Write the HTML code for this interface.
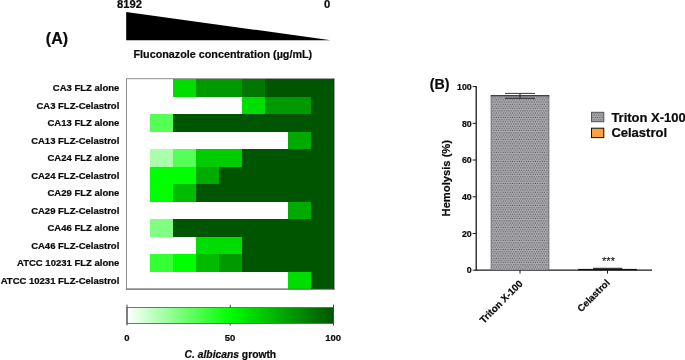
<!DOCTYPE html>
<html lang="en"><head><meta charset="utf-8"><title>Figure</title>
<style>html,body{margin:0;padding:0;background:#fff;}body{width:685px;height:360px;overflow:hidden;}svg{display:block;will-change:transform;}text{font-family:"Liberation Sans",Arial,sans-serif;font-weight:bold;fill:#0a0a0a;stroke:#0a0a0a;stroke-width:0.22px;paint-order:stroke fill;}</style>
</head><body>
<svg width="685" height="360" viewBox="0 0 685 360">
<defs>
<linearGradient id="cb" x1="0" y1="0" x2="1" y2="0"><stop offset="0" stop-color="#ffffff"/><stop offset="0.5" stop-color="#00ff00"/><stop offset="1" stop-color="#005500"/></linearGradient>
<pattern id="dots" x="0" y="0" width="2.3" height="4.4" patternUnits="userSpaceOnUse"><rect width="2.3" height="4.4" fill="#acacb0"/><rect x="0.2" y="0.3" width="1" height="1" fill="#4a4a4e"/><rect x="1.35" y="2.5" width="1" height="1" fill="#4a4a4e"/></pattern>
</defs>
<rect width="685" height="360" fill="#fff"/>
<text x="117" y="7.9" font-size="11.2">8192</text>
<text x="324" y="7.9" font-size="11.2">0</text>
<polygon points="126.2,12 126.2,40.2 330.8,40.2" fill="#000"/>
<text x="133.5" y="57.9" font-size="11.2" textLength="178.7" lengthAdjust="spacingAndGlyphs">Fluconazole concentration (µg/mL)</text>
<text x="45.8" y="43.6" font-size="16">(A)</text>
<rect x="126.5" y="78.7" width="207.5" height="210.3" fill="#fff" stroke="#8c8c8c" stroke-width="1"/>
<rect x="173.0" y="79.0" width="23.0" height="17.5" fill="#00dd00" shape-rendering="crispEdges"/>
<rect x="196.0" y="79.0" width="46.0" height="17.5" fill="#009900" shape-rendering="crispEdges"/>
<rect x="242.0" y="79.0" width="23.0" height="17.5" fill="#007700" shape-rendering="crispEdges"/>
<rect x="265.0" y="79.0" width="69.0" height="17.5" fill="#005500" shape-rendering="crispEdges"/>
<text x="119.3" y="91.10" font-size="9.5" text-anchor="end">CA3 FLZ alone</text>
<rect x="242.0" y="96.5" width="23.0" height="17.5" fill="#00dd00" shape-rendering="crispEdges"/>
<rect x="265.0" y="96.5" width="46.0" height="17.5" fill="#009900" shape-rendering="crispEdges"/>
<rect x="311.0" y="96.5" width="23.0" height="17.5" fill="#005500" shape-rendering="crispEdges"/>
<text x="119.3" y="108.60" font-size="9.5" text-anchor="end">CA3 FLZ-Celastrol</text>
<rect x="150.0" y="114.0" width="23.0" height="17.5" fill="#55ff55" shape-rendering="crispEdges"/>
<rect x="173.0" y="114.0" width="161.0" height="17.5" fill="#005500" shape-rendering="crispEdges"/>
<text x="119.3" y="126.10" font-size="9.5" text-anchor="end">CA13 FLZ alone</text>
<rect x="288.0" y="131.5" width="23.0" height="17.5" fill="#00aa00" shape-rendering="crispEdges"/>
<rect x="311.0" y="131.5" width="23.0" height="17.5" fill="#005500" shape-rendering="crispEdges"/>
<text x="119.3" y="143.60" font-size="9.5" text-anchor="end">CA13 FLZ-Celastrol</text>
<rect x="150.0" y="149.0" width="23.0" height="17.5" fill="#aaffaa" shape-rendering="crispEdges"/>
<rect x="173.0" y="149.0" width="23.0" height="17.5" fill="#55ff55" shape-rendering="crispEdges"/>
<rect x="196.0" y="149.0" width="46.0" height="17.5" fill="#00cc00" shape-rendering="crispEdges"/>
<rect x="242.0" y="149.0" width="92.0" height="17.5" fill="#005500" shape-rendering="crispEdges"/>
<text x="119.3" y="161.10" font-size="9.5" text-anchor="end">CA24 FLZ alone</text>
<rect x="150.0" y="166.5" width="46.0" height="17.5" fill="#00ff00" shape-rendering="crispEdges"/>
<rect x="196.0" y="166.5" width="23.0" height="17.5" fill="#00aa00" shape-rendering="crispEdges"/>
<rect x="219.0" y="166.5" width="115.0" height="17.5" fill="#005500" shape-rendering="crispEdges"/>
<text x="119.3" y="178.60" font-size="9.5" text-anchor="end">CA24 FLZ-Celastrol</text>
<rect x="150.0" y="184.0" width="23.0" height="17.5" fill="#00ff00" shape-rendering="crispEdges"/>
<rect x="173.0" y="184.0" width="23.0" height="17.5" fill="#00bb00" shape-rendering="crispEdges"/>
<rect x="196.0" y="184.0" width="138.0" height="17.5" fill="#005500" shape-rendering="crispEdges"/>
<text x="119.3" y="196.10" font-size="9.5" text-anchor="end">CA29 FLZ alone</text>
<rect x="288.0" y="201.5" width="23.0" height="17.5" fill="#00aa00" shape-rendering="crispEdges"/>
<rect x="311.0" y="201.5" width="23.0" height="17.5" fill="#005500" shape-rendering="crispEdges"/>
<text x="119.3" y="213.60" font-size="9.5" text-anchor="end">CA29 FLZ-Celastrol</text>
<rect x="150.0" y="219.0" width="23.0" height="17.5" fill="#80ff80" shape-rendering="crispEdges"/>
<rect x="173.0" y="219.0" width="161.0" height="17.5" fill="#005500" shape-rendering="crispEdges"/>
<text x="119.3" y="231.10" font-size="9.5" text-anchor="end">CA46 FLZ alone</text>
<rect x="196.0" y="236.5" width="46.0" height="17.5" fill="#00dd00" shape-rendering="crispEdges"/>
<rect x="242.0" y="236.5" width="92.0" height="17.5" fill="#005500" shape-rendering="crispEdges"/>
<text x="119.3" y="248.60" font-size="9.5" text-anchor="end">CA46 FLZ-Celastrol</text>
<rect x="150.0" y="254.0" width="23.0" height="17.5" fill="#33ff33" shape-rendering="crispEdges"/>
<rect x="173.0" y="254.0" width="23.0" height="17.5" fill="#00ff00" shape-rendering="crispEdges"/>
<rect x="196.0" y="254.0" width="23.0" height="17.5" fill="#00bb00" shape-rendering="crispEdges"/>
<rect x="219.0" y="254.0" width="23.0" height="17.5" fill="#009900" shape-rendering="crispEdges"/>
<rect x="242.0" y="254.0" width="92.0" height="17.5" fill="#005500" shape-rendering="crispEdges"/>
<text x="119.3" y="266.10" font-size="9.5" text-anchor="end">ATCC 10231 FLZ alone</text>
<rect x="288.0" y="271.5" width="23.0" height="17.5" fill="#00dd00" shape-rendering="crispEdges"/>
<rect x="311.0" y="271.5" width="23.0" height="17.5" fill="#005500" shape-rendering="crispEdges"/>
<text x="119.3" y="283.60" font-size="9.5" text-anchor="end">ATCC 10231 FLZ-Celastrol</text>
<line x1="333.8" y1="78.5" x2="333.8" y2="289.5" stroke="#222" stroke-width="0.7"/>
<line x1="126.0" y1="289.2" x2="334.5" y2="289.2" stroke="#555" stroke-width="0.8"/>
<rect x="127" y="307.5" width="206.5" height="16" fill="url(#cb)" stroke="#666" stroke-width="0.9"/>
<line x1="127" y1="304.7" x2="127" y2="325.5" stroke="#444" stroke-width="1"/>
<line x1="333.5" y1="304.7" x2="333.5" y2="325.5" stroke="#444" stroke-width="1"/>
<line x1="230.25" y1="304.7" x2="230.25" y2="307.5" stroke="#444" stroke-width="1"/>
<line x1="230.25" y1="323.5" x2="230.25" y2="325.5" stroke="#444" stroke-width="1"/>
<text x="126.8" y="340.9" font-size="9.5" text-anchor="middle">0</text>
<text x="230" y="340.9" font-size="9.5" text-anchor="middle">50</text>
<text x="333.2" y="340.9" font-size="9.5" text-anchor="middle">100</text>
<text x="230.4" y="357.5" font-size="10.3" text-anchor="middle"><tspan font-style="italic">C. albicans</tspan> growth</text>
<text x="429.7" y="88.8" font-size="14.2">(B)</text>
<line x1="476.2" y1="86.1" x2="476.2" y2="270.7" stroke="#1a1a1a" stroke-width="1.3"/>
<line x1="475.59999999999997" y1="270.2" x2="652" y2="270.2" stroke="#1a1a1a" stroke-width="1.3"/>
<line x1="472.6" y1="270.20" x2="476.2" y2="270.20" stroke="#1a1a1a" stroke-width="1"/>
<text x="471.7" y="273.40" font-size="8.8" text-anchor="end">0</text>
<line x1="472.6" y1="233.48" x2="476.2" y2="233.48" stroke="#1a1a1a" stroke-width="1"/>
<text x="471.7" y="236.68" font-size="8.8" text-anchor="end">20</text>
<line x1="472.6" y1="196.76" x2="476.2" y2="196.76" stroke="#1a1a1a" stroke-width="1"/>
<text x="471.7" y="199.96" font-size="8.8" text-anchor="end">40</text>
<line x1="472.6" y1="160.04" x2="476.2" y2="160.04" stroke="#1a1a1a" stroke-width="1"/>
<text x="471.7" y="163.24" font-size="8.8" text-anchor="end">60</text>
<line x1="472.6" y1="123.32" x2="476.2" y2="123.32" stroke="#1a1a1a" stroke-width="1"/>
<text x="471.7" y="126.52" font-size="8.8" text-anchor="end">80</text>
<line x1="472.6" y1="86.60" x2="476.2" y2="86.60" stroke="#1a1a1a" stroke-width="1"/>
<text x="471.7" y="89.80" font-size="8.8" text-anchor="end">100</text>
<text transform="translate(450.3,178.2) rotate(-90)" font-size="11.2" text-anchor="middle">Hemolysis (%)</text>
<rect x="491" y="95.78" width="58" height="174.42" fill="url(#dots)" stroke="#555" stroke-width="0.6"/>
<line x1="490.7" y1="95.78" x2="549.3" y2="95.78" stroke="#222" stroke-width="1"/>
<line x1="520" y1="93.4" x2="520" y2="98.3" stroke="#222" stroke-width="1"/>
<line x1="505" y1="93.4" x2="535" y2="93.4" stroke="#222" stroke-width="0.9"/>
<line x1="505" y1="98.3" x2="535" y2="98.3" stroke="#222" stroke-width="0.9"/>
<rect x="578.2" y="268.9" width="58.6" height="1.4" fill="#111"/>
<line x1="593" y1="268.3" x2="622.3" y2="268.3" stroke="#111" stroke-width="1"/>
<line x1="520" y1="270.2" x2="520" y2="273.6" stroke="#1a1a1a" stroke-width="1"/>
<line x1="607.5" y1="270.2" x2="607.5" y2="273.6" stroke="#1a1a1a" stroke-width="1"/>
<text x="608.5" y="265.1" font-size="11" text-anchor="middle" style="font-weight:normal;stroke-width:0.1px">***</text>
<text transform="translate(523.3,284.3) rotate(-45)" font-size="9.8" text-anchor="end">Triton X-100</text>
<text transform="translate(610.3,283.4) rotate(-45)" font-size="9.6" text-anchor="end">Celastrol</text>
<rect x="591.5" y="112.3" width="12.3" height="9.4" fill="url(#dots)" stroke="#555" stroke-width="1"/>
<rect x="591.5" y="128.2" width="12.3" height="9.4" fill="#ffa040" stroke="#111" stroke-width="1"/>
<text x="611.4" y="121.6" font-size="13">Triton X-100</text>
<text x="611.4" y="136.7" font-size="13">Celastrol</text>
</svg>
</body></html>
